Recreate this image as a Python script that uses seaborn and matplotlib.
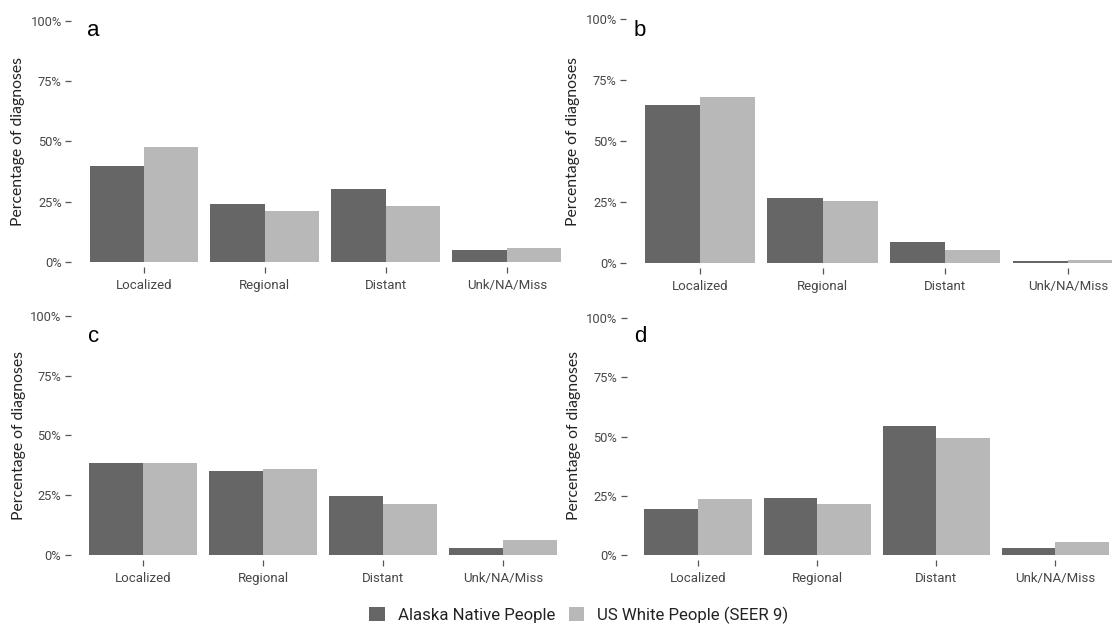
import matplotlib
matplotlib.use("Agg")
import matplotlib.pyplot as plt
from matplotlib import font_manager
from matplotlib.patches import Patch
import seaborn as sns
import pandas as pd

# ---------------- data ----------------
stages = ["Localized", "Regional", "Distant", "Unk/NA/Miss"]
groups = ["Alaska Native People", "US White People (SEER 9)"]
panel_labels = ["a", "b", "c", "d"]

a_alaska = [40.0, 24.2, 30.2, 4.8]
a_white = [47.9, 21.0, 23.2, 5.7]
b_alaska = [64.6, 26.8, 8.8, 1.1]
b_white = [68.0, 25.7, 5.6, 1.5]
c_alaska = [38.4, 35.0, 24.6, 3.1]
c_white = [38.4, 35.9, 21.3, 6.1]
d_alaska = [19.3, 24.2, 54.4, 3.0]
d_white = [23.8, 21.5, 49.5, 5.6]

y_ticks = [0, 25, 50, 75, 100]
y_ticklabels = ["0%", "25%", "50%", "75%", "100%"]
y_title = "Percentage of diagnoses"

panels = [(a_alaska, a_white), (b_alaska, b_white),
          (c_alaska, c_white), (d_alaska, d_white)]

# ---------------- style ----------------
sns.set_theme(style="white")
names = {f.name for f in font_manager.fontManager.ttflist}
if "Liberation Sans Narrow" in names:
    cond = ["Liberation Sans Narrow", "DejaVu Sans"]
    tick_x, tick_y, leg_fs = 10.8, 10.3, 14.2
else:
    cond = ["Roboto", "DejaVu Sans"]
    tick_x, tick_y, leg_fs = 9.5, 9.3, 12.1
reg = ["Lato", "Liberation Sans", "DejaVu Sans"]
plt.rcParams["font.family"] = cond

dark = "#666666"
light = "#b8b8b8"
tick_col = "#474747"

W, H = 1112, 625
fig = plt.figure(figsize=(W / 100, H / 100), dpi=100)

# axes rectangles in pixels: left, top, width, bottom
rects = [
    (71.4, 16.2, 508.0, 266.8),
    (626.4, 14.1, 515.0, 268.2),
    (71.0, 310.9, 504.0, 559.8),
    (626.6, 313.3, 500.0, 559.7),
]
ylabel_pos = [(18.5, 141.5), (573, 141), (19, 435), (574, 436)]
letter_pos = [(87, 36), (634, 36), (88, 342), (634, 342)]

for i, ((l, t, w, b), (al, wh)) in enumerate(zip(rects, panels)):
    ax = fig.add_axes([l / W, 1 - b / H, w / W, (b - t) / H])
    df = pd.DataFrame({
        "stage": stages * 2,
        "pct": list(al) + list(wh),
        "group": [groups[0]] * 4 + [groups[1]] * 4,
    })
    sns.barplot(data=df, x="stage", y="pct", hue="group", order=stages,
                hue_order=groups, palette=[dark, light], width=0.9, gap=0,
                saturation=1, ax=ax, legend=False, linewidth=0)
    ax.set_xlim(-0.6, 3.6)
    ax.set_ylim(-2, 102)
    ax.set_yticks(y_ticks)
    ax.set_yticklabels(y_ticklabels)
    ax.set_xlabel("")
    ax.set_ylabel("")
    for s in ax.spines.values():
        s.set_visible(False)
    ax.tick_params(axis="y", left=True, length=4, width=0.9, color="#555555",
                   pad=3, labelsize=tick_y, labelcolor=tick_col)
    ax.tick_params(axis="x", bottom=True, length=4.5, width=0.9, color="#555555",
                   pad=4, labelsize=tick_x, labelcolor=tick_col)
    ax.patch.set_alpha(0)
    fig.text(ylabel_pos[i][0] / W, 1 - ylabel_pos[i][1] / H, y_title,
             rotation=90, ha="center", va="center", fontsize=11.3,
             family=reg, color="#222222")
    fig.text(letter_pos[i][0] / W, 1 - letter_pos[i][1] / H, panel_labels[i],
             ha="left", va="baseline", fontsize=16,
             family=["Liberation Sans", "DejaVu Sans"], color="black")

handles = [Patch(facecolor=dark, edgecolor="none"),
           Patch(facecolor=light, edgecolor="none")]
fig.legend(handles, groups, loc="center", bbox_to_anchor=(579 / W, 1 - 615 / H),
           ncol=2, frameon=False, fontsize=leg_fs, handlelength=0.9,
           handleheight=0.9, handletextpad=0.8, columnspacing=0.8,
           borderpad=0.1, labelcolor="#222222")

fig.savefig("out.png", dpi=100)
